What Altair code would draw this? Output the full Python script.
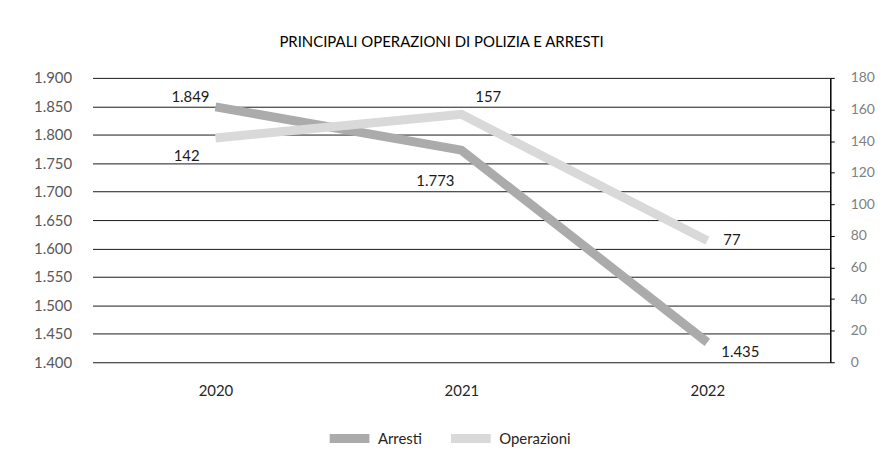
import altair as alt
import pandas as pd

years = ["2020", "2021", "2022"]
arresti = [1849, 1773, 1435]
operazioni = [142, 157, 77]
series_names = ["Arresti", "Operazioni"]
series_colors = ["#ababab", "#d9d9d9"]
left_ticks = [1400, 1450, 1500, 1550, 1600, 1650, 1700, 1750, 1800, 1850, 1900]
right_ticks = [0, 20, 40, 60, 80, 100, 120, 140, 160, 180]

rows = []
for y, a, o in zip(years, arresti, operazioni):
    rows.append({"anno": y, "serie": "Arresti", "valore": a})
    rows.append({"anno": y, "serie": "Operazioni", "valore": o})
df = pd.DataFrame(rows)

FONT = "Lato"
fmt_expr = "replace(format(datum.valore, ',d'), ',', '.')"

xenc = alt.X(
    "anno:N",
    sort=years,
    title=None,
    scale=alt.Scale(type="point", padding=0.5),
    axis=alt.Axis(labelAngle=0, domain=False, ticks=False, tickSize=0, labelPadding=21,
                  labelFontSize=15, labelColor="#262626", labelFont=FONT),
)

color_enc = alt.Color(
    "serie:N",
    scale=alt.Scale(domain=series_names, range=series_colors),
    legend=alt.Legend(orient="none", legendX=234, legendY=338, direction="horizontal",
                      title=None, symbolType="stroke", symbolStrokeWidth=9, symbolSize=1600,
                      labelFontSize=15, labelFont=FONT, labelColor="#262626",
                      labelOffset=4, columnPadding=10),
)

base = alt.Chart(df)

yl = alt.Y("valore:Q", title=None,
           scale=alt.Scale(domain=[1400, 1900], nice=False, zero=False),
           axis=alt.Axis(values=left_ticks, grid=True, gridColor="#1a1a1a", gridWidth=1,
                         domain=False, ticks=False, labelPadding=21, labelFontSize=15,
                         labelFont=FONT, labelColor="#595959",
                         labelExpr="replace(format(datum.value, ',d'), ',', '.')"))

yr = alt.Y("valore:Q", title=None,
           scale=alt.Scale(domain=[0, 180], nice=False),
           axis=alt.Axis(orient="right", values=right_ticks, grid=False, domain=True,
                         domainColor="#000000", domainWidth=1.5, ticks=True, tickSize=4,
                         tickColor="#000000", labelPadding=16, labelFontSize=14,
                         labelFont=FONT, labelColor="#808080"))


def label(serie, anno, yenc, dx, dy, align):
    return base.transform_filter(
        (alt.datum.serie == serie) & (alt.datum.anno == anno)
    ).transform_calculate(lab=fmt_expr).mark_text(
        dx=dx, dy=dy, align=align, baseline="middle", fontSize=15, font=FONT, color="#1a1a1a"
    ).encode(x=xenc, y=yenc, text="lab:N")


line_a = base.transform_filter(alt.datum.serie == "Arresti").mark_line(
    strokeWidth=9, strokeCap="butt", strokeJoin="miter"
).encode(x=xenc, y=yl, color=color_enc)

line_o = base.transform_filter(alt.datum.serie == "Operazioni").mark_line(
    strokeWidth=9, strokeCap="butt", strokeJoin="miter"
).encode(x=xenc, y=yr, color=color_enc)

left = alt.layer(
    line_a,
    label("Arresti", "2020", yl, -6, -10, "right"),
    label("Arresti", "2021", yl, -7, 31, "right"),
    label("Arresti", "2022", yl, 14, 10, "left"),
)
right = alt.layer(
    line_o,
    label("Operazioni", "2020", yr, -16, 18, "right"),
    label("Operazioni", "2021", yr, 14, -17, "left"),
    label("Operazioni", "2022", yr, 16, -1, "left"),
)

chart = alt.layer(left, right).resolve_scale(y="independent").properties(
    width=742,
    height=286,
    title=alt.TitleParams("PRINCIPALI OPERAZIONI DI POLIZIA E ARRESTI", fontSize=15,
                          font=FONT, fontWeight="normal", color="#000000",
                          anchor="middle", offset=21, dx=-20),
    autosize=alt.AutoSizeParams(type="none"),
    padding={"left": 85, "top": 69, "right": 52, "bottom": 95},
    background="white",
).configure_view(stroke=None)

chart.save("out.html", embed_options={"renderer": "svg", "actions": False})
